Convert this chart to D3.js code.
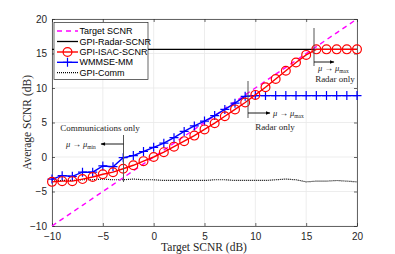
<!DOCTYPE html>
<html lang="en">
<head>
<meta charset="UTF-8">
<script src="https://d3js.org/d3.v7.min.js"></script>
<style>
  body { margin: 0; background: #fff; }
  .tick text { font-family: 'Liberation Sans', Arial, sans-serif; font-size: 10px; fill: #262626; }
  .serif { font-family: 'Liberation Serif', 'Times New Roman', serif; fill: #262626; }
</style>
</head>
<body>
<div id="chart"></div>
<script>
// data
var target = d3.range(-10, 21, 1);
var radarLevel = 15.6;
var isac = [-3.6, -3.5, -3.5, -3.2, -2.9, -2.5, -2.2, -1.7, -1.2, -0.6, 0.0,
            0.7, 1.5, 2.3, 3.1, 4.0, 4.9, 5.9, 6.9, 7.9, 9.0,
            10.1, 11.3, 12.5, 13.7, 14.8, 15.6, 15.6, 15.6, 15.6, 15.6];
var wmmse = [-3.2, -2.7, -2.8, -2.2, -2.2, -1.3, -1.4, -0.1, 0.2, 0.8, 1.4,
             2.0, 2.8, 3.7, 4.5, 5.2, 6.0, 6.9, 7.8, 8.8, 8.9,
             8.9, 8.9, 8.9, 8.9, 8.9, 8.9, 8.9, 8.9, 8.9, 8.9];
var comm = [-3.5, -3.4, -3.4, -3.3, -3.3, -3.2, -3.3, -3.3, -3.2, -3.3, -3.3,
            -3.4, -3.4, -3.4, -3.4, -3.4, -3.3, -3.3, -3.4, -3.4, -3.4,
            -3.4, -3.3, -3.2, -3.3, -3.6, -3.5, -3.5, -3.4, -3.5, -3.6];
var xTicks = [-10, -5, 0, 5, 10, 15, 20];
var yTicks = [-10, -5, 0, 5, 10, 15, 20];
var legendNames = ["Target SCNR", "GPI-Radar-SCNR", "GPI-ISAC-SCNR", "WMMSE-MM", "GPI-Comm"];

var W = 395, H = 254;
var L = 52, R = 357, T = 19, B = 226;

var svg = d3.select("#chart").append("svg")
  .attr("width", W).attr("height", H);

var x = d3.scaleLinear().domain([-10, 20]).range([L, R]);
var y = d3.scaleLinear().domain([-10, 20]).range([B, T]);

// grid
svg.append("g").selectAll("line").data(xTicks).enter().append("line")
  .attr("x1", d => x(d)).attr("x2", d => x(d)).attr("y1", T).attr("y2", B)
  .attr("stroke", "#e8e8e8").attr("stroke-width", 0.8);
svg.append("g").selectAll("line").data(yTicks).enter().append("line")
  .attr("y1", d => y(d)).attr("y2", d => y(d)).attr("x1", L).attr("x2", R)
  .attr("stroke", "#e8e8e8").attr("stroke-width", 0.8);

// axes (ticks inward, box on)
svg.append("g").attr("transform", `translate(0,${B})`)
  .call(d3.axisBottom(x).tickValues(xTicks).tickSizeInner(-3).tickSizeOuter(0).tickPadding(7));
svg.append("g").attr("transform", `translate(0,${T})`)
  .call(d3.axisTop(x).tickValues(xTicks).tickSizeInner(-3).tickSizeOuter(0).tickFormat(""));
svg.append("g").attr("transform", `translate(${L},0)`)
  .call(d3.axisLeft(y).tickValues(yTicks).tickSizeInner(-3).tickSizeOuter(0).tickPadding(5));
svg.append("g").attr("transform", `translate(${R},0)`)
  .call(d3.axisRight(y).tickValues(yTicks).tickSizeInner(-3).tickSizeOuter(0).tickFormat(""));
svg.selectAll(".domain, .tick line").attr("stroke", "#262626").attr("stroke-width", 0.7);

var line = d3.line().x((d, i) => x(target[i])).y(d => y(d));

// GPI-Comm dotted
svg.append("path").datum(comm).attr("d", line)
  .attr("fill", "none").attr("stroke", "#000").attr("stroke-width", 1.2)
  .attr("stroke-dasharray", "1,1");

// target dashed
svg.append("path").datum(target).attr("d", line)
  .attr("fill", "none").attr("stroke", "#ff00ff").attr("stroke-width", 1.4)
  .attr("stroke-dasharray", "5,4");

// radar level
svg.append("line").attr("x1", x(-10)).attr("x2", x(20))
  .attr("y1", y(radarLevel)).attr("y2", y(radarLevel))
  .attr("stroke", "#000").attr("stroke-width", 1.3);

// WMMSE blue
svg.append("path").datum(wmmse).attr("d", line)
  .attr("fill", "none").attr("stroke", "#0000ff").attr("stroke-width", 1.4);
svg.append("g").selectAll("path").data(wmmse).enter().append("path")
  .attr("d", (d, i) => {
    var cx = x(target[i]), cy = y(d);
    return `M${cx - 4.5},${cy}H${cx + 4.5}M${cx},${cy - 4.5}V${cy + 4.5}`;
  })
  .attr("stroke", "#0000ff").attr("stroke-width", 1.2);

// ISAC red
svg.append("path").datum(isac).attr("d", line)
  .attr("fill", "none").attr("stroke", "#ff0000").attr("stroke-width", 1.4);
svg.append("g").selectAll("circle").data(isac).enter().append("circle")
  .attr("cx", (d, i) => x(target[i])).attr("cy", d => y(d)).attr("r", 4.4)
  .attr("fill", "none").attr("stroke", "#ff0000").attr("stroke-width", 1.2);

// annotations
var ann = svg.append("g");
ann.append("defs").append("marker").attr("id", "ah")
  .attr("viewBox", "0 0 10 10").attr("refX", 9).attr("refY", 5)
  .attr("markerWidth", 6).attr("markerHeight", 5).attr("orient", "auto")
  .append("path").attr("d", "M0,1L10,5L0,9z").attr("fill", "#000");

function vline(xp, y1, y2) {
  ann.append("line").attr("x1", xp).attr("x2", xp).attr("y1", y1).attr("y2", y2)
    .attr("stroke", "#555").attr("stroke-width", 1);
}
function arrow(x1, x2, yp) {
  ann.append("line").attr("x1", x1).attr("x2", x2).attr("y1", yp).attr("y2", yp)
    .attr("stroke", "#000").attr("stroke-width", 0.9).attr("marker-end", "url(#ah)");
}
function mu(xp, yp, sub) {
  var t = ann.append("text").attr("class", "serif").attr("x", xp).attr("y", yp)
    .attr("font-size", 8.5).attr("font-style", "italic");
  t.append("tspan").text("\u03bc ");
  t.append("tspan").attr("font-style", "normal").text("\u2192 ");
  t.append("tspan").text("\u03bc");
  t.append("tspan").attr("font-size", 5.5).attr("font-style", "normal").attr("dy", 1.5).text(sub);
}
function label(xp, yp, s) {
  ann.append("text").attr("class", "serif").attr("x", xp).attr("y", yp)
    .attr("font-size", 9).attr("text-anchor", "middle").text(s);
}

// communications only
label(100, 131, "Communications only");
vline(123.5, 135, 182);
arrow(123.5, 101, 144);
mu(66, 147, "min");

// radar only (WMMSE)
vline(248, 81, 118);
arrow(248, 270, 113);
mu(273, 116, "max");
label(275, 129.5, "Radar only");

// radar only (ISAC)
vline(314, 28, 66);
arrow(314, 334, 62);
mu(318, 71, "max");
label(335, 81.5, "Radar only");

// legend
var lg = svg.append("g");
lg.append("rect").attr("x", 54).attr("y", 22.5).attr("width", 94).attr("height", 57)
  .attr("fill", "#fff").attr("stroke", "#262626").attr("stroke-width", 0.7);
var rows = [31, 41.5, 52, 62.3, 72.7];
var lx1 = 57, lx2 = 78, lm = 67.5;
lg.append("line").attr("x1", lx1).attr("x2", lx2).attr("y1", rows[0]).attr("y2", rows[0])
  .attr("stroke", "#ff00ff").attr("stroke-width", 1.4).attr("stroke-dasharray", "5,4");
lg.append("line").attr("x1", lx1).attr("x2", lx2).attr("y1", rows[1]).attr("y2", rows[1])
  .attr("stroke", "#000").attr("stroke-width", 1.3);
lg.append("line").attr("x1", lx1).attr("x2", lx2).attr("y1", rows[2]).attr("y2", rows[2])
  .attr("stroke", "#ff0000").attr("stroke-width", 1.4);
lg.append("circle").attr("cx", lm).attr("cy", rows[2]).attr("r", 4.4)
  .attr("fill", "none").attr("stroke", "#ff0000").attr("stroke-width", 1.2);
lg.append("line").attr("x1", lx1).attr("x2", lx2).attr("y1", rows[3]).attr("y2", rows[3])
  .attr("stroke", "#0000ff").attr("stroke-width", 1.4);
lg.append("path").attr("d", `M${lm - 4.5},${rows[3]}H${lm + 4.5}M${lm},${rows[3] - 4.5}V${rows[3] + 4.5}`)
  .attr("stroke", "#0000ff").attr("stroke-width", 1.2);
lg.append("line").attr("x1", lx1).attr("x2", lx2).attr("y1", rows[4]).attr("y2", rows[4])
  .attr("stroke", "#000").attr("stroke-width", 1.2).attr("stroke-dasharray", "1,1");
lg.selectAll("text.lt").data(legendNames).enter().append("text")
  .attr("x", 79.5).attr("y", (d, i) => rows[i]).attr("dy", "0.35em")
  .attr("font-family", "'Liberation Sans', Arial, sans-serif").attr("font-size", 9)
  .attr("fill", "#000").text(d => d);

// axis titles
svg.append("text").attr("class", "serif").attr("x", 204).attr("y", 251)
  .attr("text-anchor", "middle").attr("font-size", 11.5).text("Target SCNR (dB)");
svg.append("text").attr("class", "serif")
  .attr("transform", `translate(31,${(T + B) / 2}) rotate(-90)`)
  .attr("text-anchor", "middle").attr("font-size", 11.5).text("Average SCNR (dB)");
</script>
</body>
</html>
